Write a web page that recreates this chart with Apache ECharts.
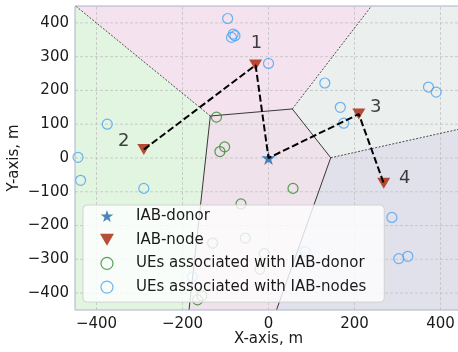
<!DOCTYPE html>
<html><head><meta charset="utf-8">
<script src="https://cdn.jsdelivr.net/npm/echarts@6/dist/echarts.min.js"></script>
<style>html,body{margin:0;padding:0;background:#fff}#c{width:458px;height:352px}</style>
</head><body><div id="c"></div>
<script>
// ---------- data ----------
const donor = [0, 0];
const nodes = [[-30, 275], [-290, 25], [210, 130], [268, -75]];
const nodeLabels = ['1', '2', '3', '4'];
// backhaul path through sites: index 0 = donor, 1..4 = nodes
const backhaulPath = [2, 1, 0, 3, 4];
const uesDonor = [[-121, 121], [-113, 19], [-102, 33], [57, -90], [-64, -136], [-54, -237],
  [-130, -252], [-10, -283], [-20, -329], [-165, -420], [-155, -408]];
const uesNodes = [[-95, 413], [-82, 367], [-78, 362], [-86, 357], [0, 280], [131, 222], [167, 150],
  [175, 103], [372, 210], [390, 195], [-375, 100], [-443, 2], [-437, -66], [-290, -90],
  [-177, -352], [287, -176], [303, -298], [324, -291], [85, -277]];
const xTicks = [-400, -200, 0, 200, 400];
const yTicks = [-400, -300, -200, -100, 0, 100, 200, 300, 400];
const seriesNames = ['IAB-donor', 'IAB-node', 'UEs associated with IAB-donor', 'UEs associated with IAB-nodes'];

// ---------- styles ----------
const cellColors = ['#f0e2ea', '#f4e3ee', '#e2f5e0', '#ebefed', '#e1e1ec'];
const labelOffsets = [[1, -22], [-20, -8], [17, -7], [21, -5]];
const FONT = 'DejaVu Sans';
const starPath = 'path://M0,-100 L22.45,-30.9 L95.1,-30.9 L36.3,11.8 L58.8,80.9 L0,38.2 L-58.8,80.9 L-36.3,11.8 L-95.1,-30.9 L-22.45,-30.9 Z';
const triPath = 'path://M-50,-43 L50,-43 L0,43 Z';
const cDonor = '#1c68ad', cNode = '#a62208', cGreen = '#2e8a2e', cBlue = '#4aa3f2';

// ---------- Voronoi cells (half-plane clipping) ----------
const sites = [donor].concat(nodes);
function cellPolygon(i) {
  let poly = [[-1000, -1000], [1000, -1000], [1000, 1000], [-1000, 1000]];
  const a = sites[i];
  sites.forEach((b, j) => {
    if (j === i) return;
    const nx = b[0] - a[0], ny = b[1] - a[1];
    const c = (b[0] * b[0] + b[1] * b[1] - a[0] * a[0] - a[1] * a[1]) / 2;
    const f = p => p[0] * nx + p[1] * ny - c;
    const out = [];
    for (let k = 0; k < poly.length; k++) {
      const p = poly[k], q = poly[(k + 1) % poly.length];
      const fp = f(p), fq = f(q);
      if (fp <= 0) out.push(p);
      if ((fp < 0 && fq > 0) || (fp > 0 && fq < 0)) {
        const t = fp / (fp - fq);
        out.push([p[0] + t * (q[0] - p[0]), p[1] + t * (q[1] - p[1])]);
      }
    }
    poly = out;
  });
  return poly;
}
const cells = sites.map((s, i) => cellPolygon(i));
const dist = (p, q) => Math.hypot(p[0] - q[0], p[1] - q[1]);
const edges = [];
for (let i = 0; i < sites.length; i++) {
  for (let j = i + 1; j < sites.length; j++) {
    const poly = cells[i];
    for (let k = 0; k < poly.length; k++) {
      const p = poly[k], q = poly[(k + 1) % poly.length];
      if (Math.abs(dist(p, sites[i]) - dist(p, sites[j])) < 1e-6 &&
          Math.abs(dist(q, sites[i]) - dist(q, sites[j])) < 1e-6) {
        edges.push([p[0], p[1], q[0], q[1], (i === 0 || j === 0) ? 1 : 0]);
      }
    }
  }
}

const minus = v => String(v).replace('-', '\u2212');
const chart = echarts.init(document.getElementById('c'), null, { renderer: 'canvas' });
chart.setOption({
  animation: false,
  backgroundColor: '#ffffff',
  grid: { left: 75, width: 387, top: 6, height: 304, outerBoundsMode: 'none', containLabel: false,
    show: true, borderColor: '#a9b3cc', borderWidth: 1, z: 10, backgroundColor: 'transparent' },
  xAxis: {
    type: 'value', min: -450, max: 450, interval: 50,
    name: 'X-axis, m', nameLocation: 'middle', nameGap: 22, nameMoveOverlap: false,
    nameTextStyle: { fontFamily: FONT, fontSize: 15, color: '#1a1a1a' },
    axisLine: { show: false }, axisTick: { show: false }, splitLine: { show: false },
    axisLabel: { margin: 7, fontFamily: FONT, fontSize: 15, color: '#1a1a1a',
      formatter: v => xTicks.includes(v) ? minus(v) : '' }
  },
  yAxis: {
    type: 'value', min: -450, max: 450, interval: 50,
    name: 'Y-axis, m', nameLocation: 'middle', nameGap: 53, nameMoveOverlap: false,
    nameTextStyle: { fontFamily: FONT, fontSize: 15, color: '#1a1a1a' },
    axisLine: { show: false }, axisTick: { show: false }, splitLine: { show: false },
    axisLabel: { margin: 6, fontFamily: FONT, fontSize: 15, color: '#1a1a1a',
      formatter: v => yTicks.includes(v) ? minus(v) : '' }
  },
  legend: {
    orient: 'vertical', left: 83, top: 205, z: 20,
    data: [
      { name: seriesNames[0], icon: starPath, itemStyle: { color: cDonor } },
      { name: seriesNames[1], icon: triPath, itemStyle: { color: cNode } },
      { name: seriesNames[2], icon: 'circle', itemStyle: { color: 'rgba(0,0,0,0)', borderColor: cGreen, borderWidth: 1.2 } },
      { name: seriesNames[3], icon: 'circle', itemStyle: { color: 'rgba(0,0,0,0)', borderColor: cBlue, borderWidth: 1.2 } }
    ],
    itemWidth: 40, itemHeight: 12, itemGap: 5.7,
    padding: [2, 18, 6, 17],
    backgroundColor: 'rgba(255,255,255,0.8)', borderColor: '#d2d2d2', borderWidth: 1, borderRadius: 4,
    textStyle: { fontFamily: FONT, fontSize: 15, color: '#1a1a1a', lineHeight: 18, padding: [0, 0, 0, 4] },
    selectedMode: false
  },
  series: [
    {
      type: 'custom', name: 'cells', coordinateSystem: 'cartesian2d', clip: true, silent: true, z: 1,
      data: cells.map((c, i) => [i, 0]),
      renderItem: (params, api) => ({
        type: 'polygon',
        shape: { points: cells[params.dataIndex].map(p => api.coord(p)) },
        style: { fill: cellColors[params.dataIndex] }
      })
    },
    {
      type: 'custom', name: 'gridlines', coordinateSystem: 'cartesian2d', clip: true, silent: true, z: 2,
      data: xTicks.map(v => [v, 0, 0]).concat(yTicks.map(v => [0, v, 1])),
      renderItem: (params, api) => {
        const vert = api.value(2) === 0;
        const p1 = vert ? api.coord([api.value(0), -450]) : api.coord([-450, api.value(1)]);
        const p2 = vert ? api.coord([api.value(0), 450]) : api.coord([450, api.value(1)]);
        return { type: 'line', shape: { x1: p1[0], y1: p1[1], x2: p2[0], y2: p2[1] },
          style: { stroke: '#c2c2c2', lineWidth: 0.8, lineDash: [3, 2] } };
      }
    },
    {
      type: 'custom', name: 'edges', coordinateSystem: 'cartesian2d', clip: true, silent: true, z: 3,
      data: edges,
      renderItem: (params, api) => {
        const p1 = api.coord([api.value(0), api.value(1)]);
        const p2 = api.coord([api.value(2), api.value(3)]);
        const solid = api.value(4) === 1;
        return { type: 'line', shape: { x1: p1[0], y1: p1[1], x2: p2[0], y2: p2[1] },
          style: { stroke: '#222', lineWidth: solid ? 0.9 : 0.8, lineDash: solid ? null : [2, 1.5] } };
      }
    },
    {
      type: 'scatter', name: seriesNames[2], data: uesDonor, z: 4,
      symbol: 'circle', symbolSize: 10,
      itemStyle: { color: 'rgba(0,0,0,0)', borderColor: cGreen, borderWidth: 1.2 }
    },
    {
      type: 'scatter', name: seriesNames[3], data: uesNodes, z: 4,
      symbol: 'circle', symbolSize: 10,
      itemStyle: { color: 'rgba(0,0,0,0)', borderColor: cBlue, borderWidth: 1.2 }
    },
    {
      type: 'scatter', name: seriesNames[1], z: 5,
      data: nodes.map((p, i) => ({ value: p, label: { show: true, formatter: nodeLabels[i], position: 'inside', offset: labelOffsets[i] } })),
      symbol: triPath, symbolSize: [13, 11],
      itemStyle: { color: cNode },
      label: { fontFamily: FONT, fontSize: 18, color: '#111' }
    },
    {
      type: 'scatter', name: seriesNames[0], z: 5,
      data: [donor], symbol: starPath, symbolSize: 14,
      itemStyle: { color: cDonor }
    },
    {
      type: 'line', name: 'links', z: 6, silent: true,
      data: backhaulPath.map(k => sites[k]),
      symbol: 'none', lineStyle: { color: '#000', width: 2, type: [7, 3] }
    }
  ]
});
</script>
</body></html>
